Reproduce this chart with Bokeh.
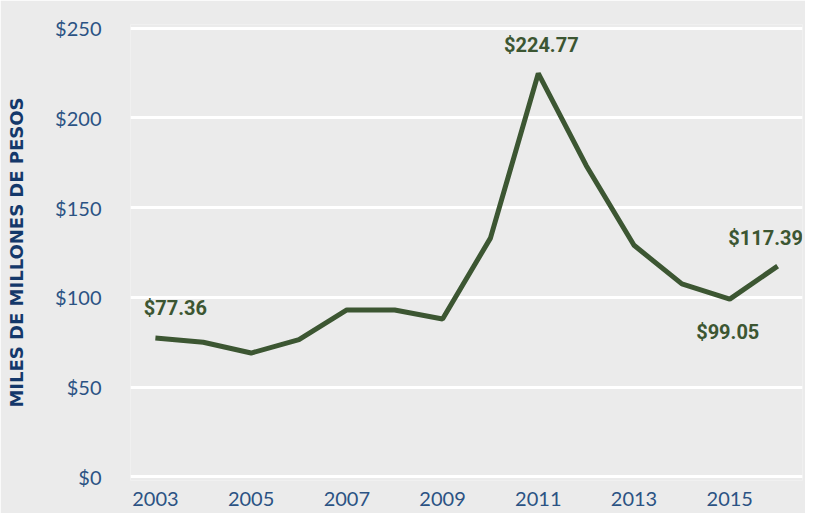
from bokeh.plotting import figure
from bokeh.models import FixedTicker, Range1d, CustomJSTickFormatter, Label
from bokeh.embed import file_html
from bokeh.resources import INLINE

years = [2003, 2004, 2005, 2006, 2007, 2008, 2009, 2010, 2011, 2012, 2013, 2014, 2015, 2016]
values = [77.36, 75.0, 69.0, 76.5, 93.0, 93.0, 88.0, 133.0, 224.77, 173.5, 129.0, 107.5, 99.05, 117.39]

label_years = [2003, 2011, 2015, 2016]
label_values = [77.36, 224.77, 99.05, 117.39]
label_texts = ["$77.36", "$224.77", "$99.05", "$117.39"]
label_dx = [20, 3, -2, -12]
label_dy = [30, 28, -33, 28]

y_ticks = [0, 50, 100, 150, 200, 250]
x_ticks = [2003, 2005, 2007, 2009, 2011, 2013, 2015]

BG = "#ebebeb"
GREEN = "#3c5632"
BLUE = "#2b5384"
NAVY = "#14386a"

p = figure(width=805, height=513, output_backend="svg", toolbar_location=None,
           x_range=Range1d(2002.48, 2016.52), y_range=Range1d(-2, 252),
           min_border_left=130, min_border_right=3, min_border_top=24, min_border_bottom=33)
p.background_fill_color = BG
p.border_fill_color = BG
p.outline_line_color = None

p.line(years, values, line_color=GREEN, line_width=5)

for x, y, t, dx, dy in zip(label_years, label_values, label_texts, label_dx, label_dy):
    p.add_layout(Label(x=x, y=y, text=t, x_offset=dx, y_offset=dy,
                       text_font="Roboto", text_font_style="bold", text_font_size="20px",
                       text_color=GREEN, text_align="center", text_baseline="middle"))

p.xgrid.grid_line_color = None
p.ygrid.grid_line_color = "white"
p.ygrid.grid_line_width = 3
p.yaxis.ticker = FixedTicker(ticks=y_ticks)
p.xaxis.ticker = FixedTicker(ticks=x_ticks)
p.yaxis.formatter = CustomJSTickFormatter(code="return '$' + tick;")

for ax in (p.xaxis, p.yaxis):
    ax.axis_line_color = None
    ax.major_tick_line_color = None
    ax.minor_tick_line_color = None
    ax.major_label_text_font = "Lato"
    ax.major_label_text_font_size = "20px"
    ax.major_label_text_color = BLUE

p.yaxis.major_label_standoff = 23
p.xaxis.major_label_standoff = 5
p.yaxis.axis_label = "MILES DE MILLONES DE PESOS"
p.yaxis.axis_label_text_font = "DejaVu Sans"
p.yaxis.axis_label_text_font_style = "bold"
p.yaxis.axis_label_text_font_size = "18px"
p.yaxis.axis_label_text_color = NAVY
p.yaxis.axis_label_standoff = 25

open("out.html", "w").write(file_html(p, INLINE))
